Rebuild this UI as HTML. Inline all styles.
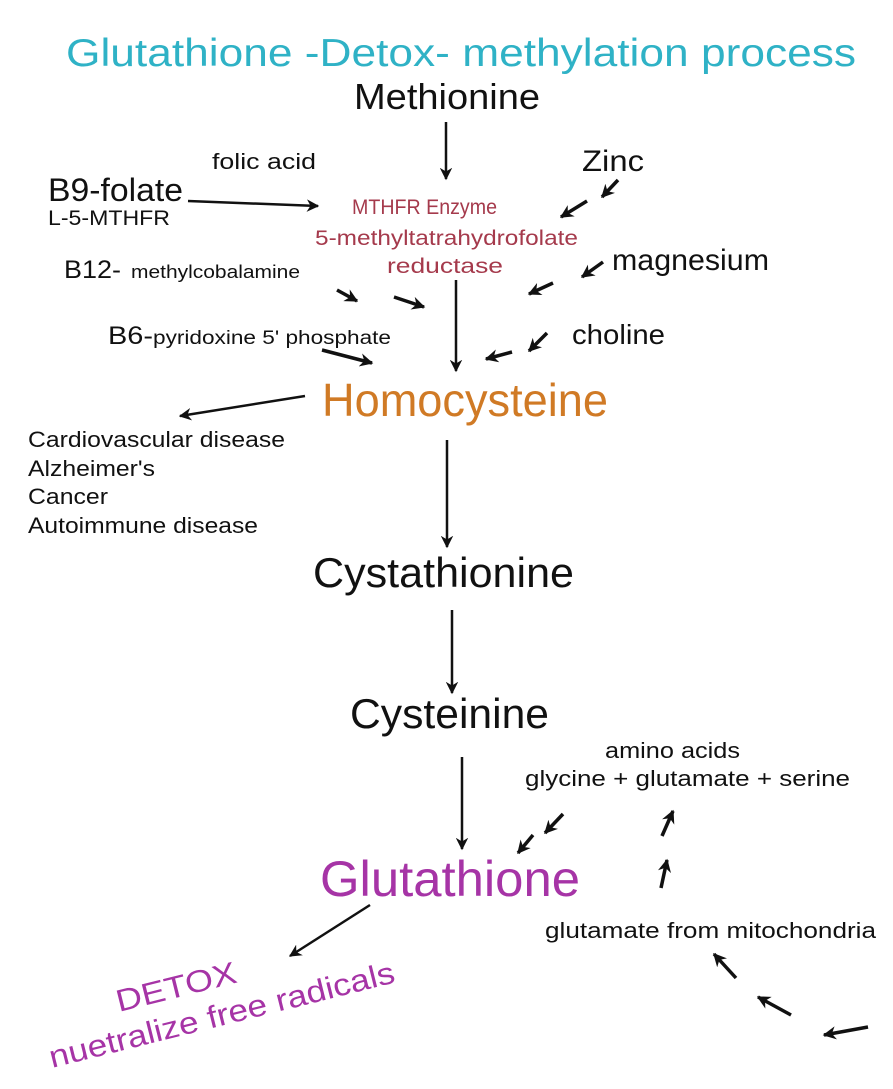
<!DOCTYPE html>
<html><head><meta charset="utf-8"><style>
html,body{margin:0;padding:0;background:#fff;}
svg{display:block;}
text{font-family:"Liberation Sans",Arial,sans-serif;}
</style></head><body>
<svg width="893" height="1089" viewBox="0 0 893 1089" xmlns="http://www.w3.org/2000/svg">
<defs>
<marker id="a" viewBox="0 0 10 10" refX="9" refY="5" markerWidth="5" markerHeight="5" orient="auto"><path d="M0,0 L10,5 L0,10 L3,5 z" fill="#111"/></marker>
<marker id="b" viewBox="0 0 10 10" refX="9" refY="5" markerWidth="3.8" markerHeight="3.8" orient="auto"><path d="M0,0 L10,5 L0,10 L3,5 z" fill="#111"/></marker>
</defs>
<rect width="893" height="1089" fill="#fff"/>
<text x="66" y="66" font-size="39" fill="#2fb2c6" textLength="790" lengthAdjust="spacingAndGlyphs">Glutathione -Detox-  methylation process</text>
<text x="354" y="109" font-size="36" fill="#111" textLength="186" lengthAdjust="spacingAndGlyphs">Methionine</text>
<text x="212" y="169" font-size="22" fill="#111" textLength="104" lengthAdjust="spacingAndGlyphs">folic acid</text>
<text x="582" y="171" font-size="30" fill="#111" textLength="62" lengthAdjust="spacingAndGlyphs">Zinc</text>
<text x="48" y="201" font-size="32" fill="#111" textLength="135" lengthAdjust="spacingAndGlyphs">B9-folate</text>
<text x="48" y="225" font-size="21" fill="#111" textLength="122" lengthAdjust="spacingAndGlyphs">L-5-MTHFR</text>
<text x="352" y="214" font-size="21" fill="#a53a4c" textLength="145" lengthAdjust="spacingAndGlyphs">MTHFR Enzyme</text>
<text x="315" y="245" font-size="21" fill="#a53a4c" textLength="263" lengthAdjust="spacingAndGlyphs">5-methyltatrahydrofolate</text>
<text x="387" y="273" font-size="21" fill="#a53a4c" textLength="116" lengthAdjust="spacingAndGlyphs">reductase</text>
<text x="64" y="278" font-size="25" fill="#111" textLength="57" lengthAdjust="spacingAndGlyphs">B12-</text>
<text x="131" y="278" font-size="18" fill="#111" textLength="169" lengthAdjust="spacingAndGlyphs">methylcobalamine</text>
<text x="612" y="270" font-size="30" fill="#111" textLength="157" lengthAdjust="spacingAndGlyphs">magnesium</text>
<text x="108" y="344" font-size="25" fill="#111" textLength="45" lengthAdjust="spacingAndGlyphs">B6-</text>
<text x="153" y="344" font-size="19" fill="#111" textLength="238" lengthAdjust="spacingAndGlyphs">pyridoxine 5' phosphate</text>
<text x="572" y="344" font-size="28" fill="#111" textLength="93" lengthAdjust="spacingAndGlyphs">choline</text>
<text x="322" y="416" font-size="46" fill="#d07a25" textLength="286" lengthAdjust="spacingAndGlyphs">Homocysteine</text>
<g font-size="22" fill="#111">
<text x="28" y="447" textLength="257" lengthAdjust="spacingAndGlyphs">Cardiovascular disease</text>
<text x="28" y="476" textLength="127" lengthAdjust="spacingAndGlyphs">Alzheimer's</text>
<text x="28" y="504" textLength="80" lengthAdjust="spacingAndGlyphs">Cancer</text>
<text x="28" y="533" textLength="230" lengthAdjust="spacingAndGlyphs">Autoimmune disease</text>
</g>
<text x="313" y="587" font-size="42" fill="#111" textLength="261" lengthAdjust="spacingAndGlyphs">Cystathionine</text>
<text x="350" y="728" font-size="42" fill="#111" textLength="199" lengthAdjust="spacingAndGlyphs">Cysteinine</text>
<text x="605" y="758" font-size="22" fill="#111" textLength="135" lengthAdjust="spacingAndGlyphs">amino acids</text>
<text x="525" y="786" font-size="22" fill="#111" textLength="325" lengthAdjust="spacingAndGlyphs">glycine + glutamate + serine</text>
<text x="320" y="896" font-size="50" fill="#a634a6" textLength="260" lengthAdjust="spacingAndGlyphs">Glutathione</text>
<text x="545" y="938" font-size="22" fill="#111" textLength="331" lengthAdjust="spacingAndGlyphs">glutamate from mitochondria</text>
<g fill="#a634a6" font-size="31">
<text transform="translate(119,1012) rotate(-14)" textLength="123" lengthAdjust="spacingAndGlyphs">DETOX</text>
<text transform="translate(52,1068) rotate(-14)" textLength="355" lengthAdjust="spacingAndGlyphs">nuetralize free radicals</text>
</g>
<g stroke="#111" stroke-width="2.5" fill="none" marker-end="url(#a)">
<line x1="446" y1="122" x2="446" y2="179"/>
<line x1="188" y1="201" x2="318" y2="206"/>
<line x1="456" y1="280" x2="456" y2="371"/>
<line x1="305" y1="396" x2="180" y2="416"/>
<line x1="447" y1="440" x2="447" y2="547"/>
<line x1="452" y1="610" x2="452" y2="693"/>
<line x1="462" y1="757" x2="462" y2="849"/>
<line x1="370" y1="905" x2="290" y2="956"/>
</g>
<g stroke="#111" stroke-width="3.5" fill="none" marker-end="url(#b)">
<line x1="618" y1="180" x2="602" y2="197"/>
<line x1="587" y1="201" x2="561" y2="217"/>
<line x1="603" y1="262" x2="582" y2="277"/>
<line x1="553" y1="283" x2="529" y2="294"/>
<line x1="547" y1="333" x2="529" y2="351"/>
<line x1="512" y1="352" x2="486" y2="359"/>
<line x1="337" y1="290" x2="357" y2="301"/>
<line x1="394" y1="297" x2="424" y2="307"/>
<line x1="322" y1="350" x2="372" y2="363"/>
<line x1="563" y1="814" x2="545" y2="833"/>
<line x1="533" y1="835" x2="518" y2="853"/>
<line x1="662" y1="836" x2="673" y2="811"/>
<line x1="661" y1="888" x2="667" y2="860"/>
<line x1="736" y1="978" x2="714" y2="954"/>
<line x1="791" y1="1015" x2="758" y2="997"/>
<line x1="868" y1="1027" x2="824" y2="1035"/>
</g>
</svg>
</body></html>
